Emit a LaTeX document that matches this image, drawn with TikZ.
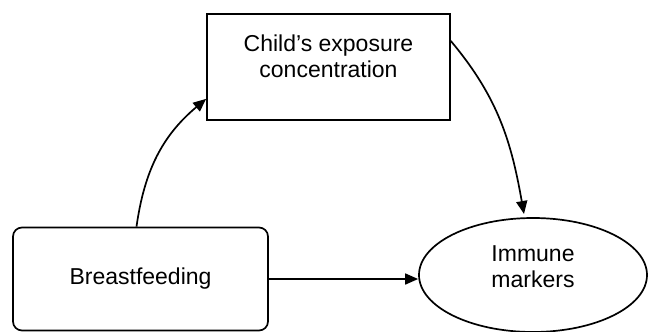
\documentclass[tikz,border=0pt]{standalone}
\usepackage{fontspec}
\setmainfont{Liberation Sans}
\usepackage{tikz}
\usetikzlibrary{arrows.meta, shapes.geometric, positioning}

\begin{document}
\begin{tikzpicture}[x=1pt, y=-1pt, line width=1.7pt,
        >={Triangle[length=13pt, width=11pt]},
        box/.style={draw, align=center, font=\fontsize{23}{26}\selectfont}]
    \useasboundingbox (0, 0) rectangle (648, 332);

    \node[box, minimum width=243pt, minimum height=106pt, text depth=22pt] (child) at (328.5, 67) {Child's exposure\\concentration};
    \node[box, rounded corners=9pt, minimum width=255pt, minimum height=103pt] (breast) at (140.5, 279) {Breastfeeding};
    \node[box, ellipse, inner sep=0pt, minimum width=228pt, minimum height=114pt, text depth=16pt] (immune) at (533, 275) {Immune\\markers};

    \draw[->] ([xshift=-4pt]breast.north) to[out=82, in=220] ([yshift=22pt]child.south west);
    \draw[->] ([yshift=26pt]child.east) to[out=-50, in=100] (524, 214);
    \draw[->] (breast.east) -- (breast.east -| immune.west);
\end{tikzpicture}
\end{document}
